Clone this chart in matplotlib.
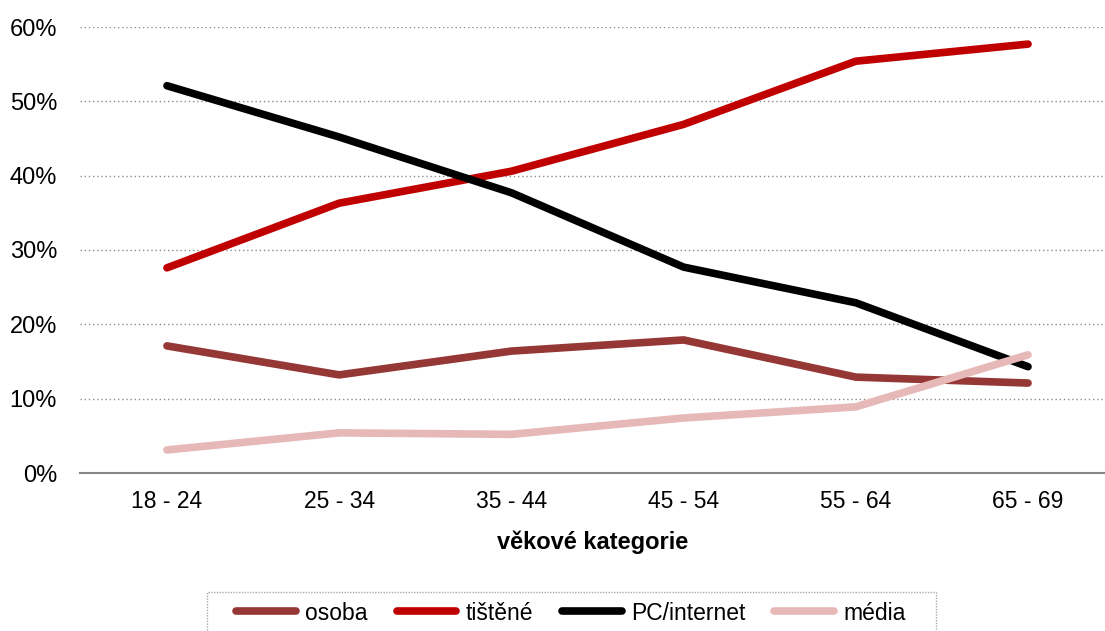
import matplotlib
matplotlib.use("Agg")
import matplotlib.pyplot as plt
from matplotlib.ticker import FuncFormatter
from matplotlib.patches import Rectangle

categories = ["18 - 24", "25 - 34", "35 - 44", "45 - 54", "55 - 64", "65 - 69"]
osoba = [17.1, 13.2, 16.4, 17.9, 12.9, 12.1]
tistene = [27.6, 36.3, 40.6, 46.9, 55.4, 57.7]
pc_internet = [52.1, 45.2, 37.7, 27.7, 22.9, 14.3]
media = [3.1, 5.4, 5.2, 7.4, 8.9, 15.9]
series_names = ["osoba", "tištěné", "PC/internet", "média"]
colors = ["#953735", "#C00000", "#000000", "#E6B9B8"]

plt.rcParams['font.family'] = ['Liberation Sans', 'DejaVu Sans']

fig = plt.figure(figsize=(11.05, 6.31), dpi=100)
W, H = 1105, 631
ax = fig.add_axes([80 / W, (H - 473) / H, (1105 - 80) / W, 446 / H])

x = list(range(len(categories)))
for vals, name, c in zip([osoba, tistene, pc_internet, media], series_names, colors):
    ax.plot(x, vals, color=c, lw=5.5, solid_capstyle='round', solid_joinstyle='round', label=name)

ax.set_xlim(-0.505, 5.447)
ax.set_ylim(0, 60)
ax.set_yticks(range(0, 61, 10))
ax.yaxis.set_major_formatter(FuncFormatter(lambda v, p: f"{int(v)}%"))
ax.set_xticks(x)
ax.set_xticklabels(categories)
ax.tick_params(axis='both', length=0, colors='black')
ax.tick_params(axis='y', pad=16.5, labelsize=17)
ax.tick_params(axis='x', pad=12, labelsize=16.5)
ax.grid(axis='y', color='#8c8c8c', linestyle=(0, (1, 2)), linewidth=1)
ax.set_axisbelow(True)
for s in ['top', 'right', 'left']:
    ax.spines[s].set_visible(False)
ax.spines['bottom'].set_color('#868686')
ax.spines['bottom'].set_linewidth(1.5)
ax.set_xlabel("věkové kategorie", fontsize=17, fontweight='bold', labelpad=13)

# legend frame (dotted, cut off by the bottom edge like the reference)
fig.patches.append(Rectangle((207 / W, -0.05), (936 - 207) / W, (1 - 592 / H) + 0.05,
                             transform=fig.transFigure, fill=False, edgecolor='#aaaaaa',
                             linestyle=(0, (1, 1)), linewidth=1))

leg = fig.legend(loc='center', bbox_to_anchor=(571 / W, 1 - 613 / H), ncol=4, fontsize=16.5,
                 frameon=False, handlelength=2.6, columnspacing=1.27,
                 borderpad=0.2, borderaxespad=0, handletextpad=0.4)

fig.savefig("out.png", dpi=100)
